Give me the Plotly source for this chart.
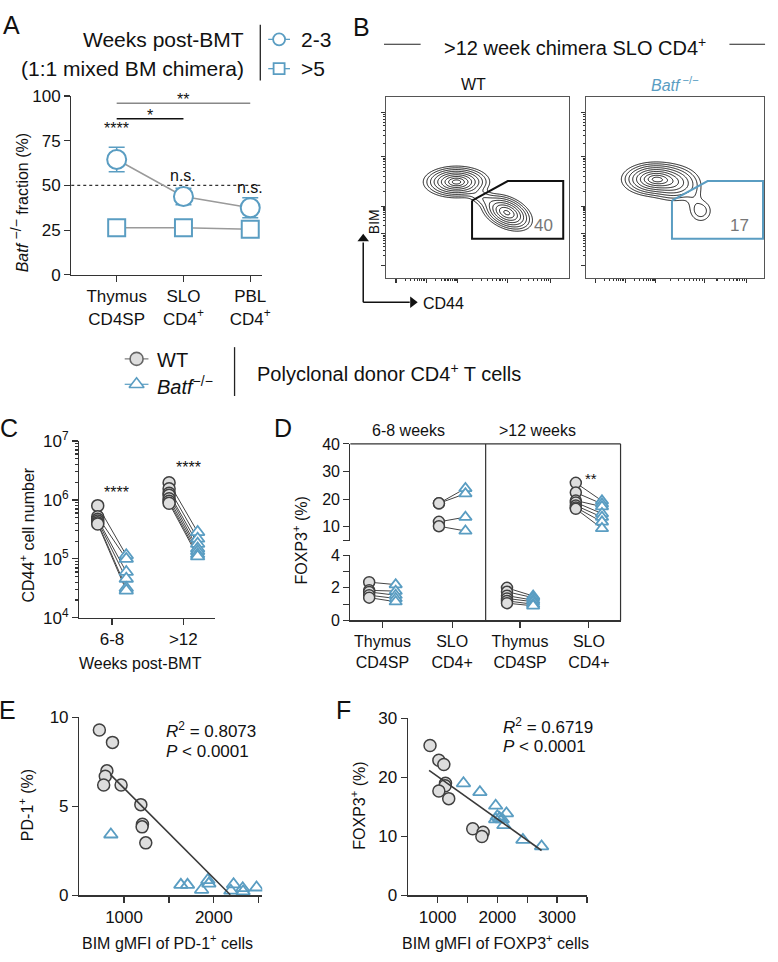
import numpy as np
import plotly.graph_objects as go

W, H = 778, 962
FONT = "Liberation Sans, Arial, sans-serif"
BLUE = "#5a9dc2"
DARK = "#333333"
WT_FILL = "#dedede"
WT_LINE = "#404040"

# ======================= DATA =======================
a_categories = ["Thymus<br>CD4SP", "SLO<br>CD4<sup>+</sup>", "PBL<br>CD4<sup>+</sup>"]
a_wk23_mean = [64.5, 43.8, 37.5]
a_wk23_sem = [6.8, 4.6, 5.6]
a_wk5_mean = [26.4, 26.4, 25.5]
a_sig_above = ["****", "n.s.", "n.s."]
a_sig_above_y = [76, 49.5, 43.2]
a_bar_pairs = [(0, 2, 96.0, "**", "#888888"), (0, 1, 87.3, "*", "#111111")]

b_wt_pops = [(0.385, 0.53, 0.066, 0.032, 0.0, 1.0),
             (0.66, 0.36, 0.052, 0.038, -0.4, 0.85),
             (0.53, 0.44, 0.05, 0.03, -0.6, 0.08)]
b_ko_pops = [(0.39, 0.545, 0.07, 0.035, 0.0, 1.0),
             (0.50, 0.52, 0.06, 0.04, 0.0, 0.35),
             (0.645, 0.37, 0.034, 0.034, 0.0, 0.08),
             (0.605, 0.45, 0.03, 0.045, 0.0, 0.035)]
b_wt_gate_x = [0.47, 0.665, 0.968, 0.968, 0.47, 0.47]
b_wt_gate_y = [0.427, 0.535, 0.535, 0.216, 0.216, 0.427]
b_ko_gate_x = [0.483, 0.683, 0.994, 0.994, 0.483, 0.483]
b_ko_gate_y = [0.427, 0.535, 0.535, 0.216, 0.216, 0.427]
b_wt_pct = "40"
b_ko_pct = "17"

c_groups = ["6-8", ">12"]
c_wt = [[8.0e5, 5.2e5, 4.7e5, 4.4e5, 4.1e5, 3.9e5],
        [1.95e6, 1.55e6, 1.3e6, 1.2e6, 1.05e6, 0.95e6, 0.88e6]]
c_ko = [[1.15e5, 1.0e5, 6.0e4, 4.6e4, 3.2e4, 2.9e4],
        [2.85e5, 2.2e5, 1.8e5, 1.5e5, 1.35e5, 1.2e5, 1.1e5]]
c_sig = ["****", "****"]
c_sig_y = [8.9e5, 2.4e6]

d_cats = ["Thymus<br>CD4SP", "SLO<br>CD4+"]
d_panels = ["6-8 weeks", ">12 weeks"]
d_thy_wt = [[2.35, 1.85, 1.75, 1.55, 1.4], [2.0, 1.76, 1.52, 1.35, 1.2, 1.06]]
d_thy_ko = [[2.2, 1.8, 1.55, 1.35, 1.15], [1.5, 1.4, 1.25, 1.15, 1.0, 0.9]]
d_slo_wt = [[18.5, 18.5, 11.8, 10.2], [25.9, 22.4, 19.5, 18.8, 17.7, 17.0, 16.5]]
d_slo_ko = [[23.9, 22.0, 13.5, 8.5], [19.4, 18.3, 17.3, 14.8, 13.5, 11.8, 9.4]]
d_sig_y = 23.7

e_wt_x = [725, 871, 809, 791, 773, 967, 1187, 1205, 1201, 1242]
e_wt_y = [9.3, 8.6, 7.0, 6.7, 6.2, 6.2, 5.1, 4.0, 3.85, 2.95]
e_ko_x = [853, 1633, 1707, 1864, 1934, 1945, 2220, 2190, 2322, 2326, 2476]
e_ko_y = [3.42, 0.59, 0.59, 0.31, 0.86, 0.66, 0.62, 0.26, 0.40, 0.22, 0.44]
e_fit_slope, e_fit_intercept, e_fit_x = -0.00506, 11.08, [846, 2183]
e_stats = ["<i>R</i><sup>2</sup> = 0.8073", "<i>P</i> < 0.0001"]

f_wt_x = [873, 1021, 1104, 1132, 1126, 1021, 1186, 1588, 1763, 1741]
f_wt_y = [25.4, 22.9, 22.2, 19.0, 18.6, 17.7, 16.4, 11.3, 10.7, 9.97]
f_ko_x = [1433, 1708, 1972, 2153, 2000, 2038, 1972, 2082, 2109, 2428, 2741]
f_ko_y = [19.0, 17.5, 15.2, 13.9, 13.4, 13.1, 12.9, 12.9, 11.9, 9.4, 8.3]
f_fit_slope, f_fit_intercept, f_fit_x = -0.00722, 27.39, [857, 2741]
f_stats = ["<i>R</i><sup>2</sup> = 0.6719", "<i>P</i> < 0.0001"]

# ======================= HELPERS =======================
def X(p): return p / W
def Y(p): return 1 - p / H
def dx(a, b): return [a / W, b / W]
def dy(top, bot): return [1 - bot / H, 1 - top / H]

fig = go.Figure()
ann = []
shapes = []

def txt(x, y, s, size=16, color="#111", xanchor="center", yanchor="middle", angle=0, **kw):
    d = dict(x=X(x), y=Y(y), xref="paper", yref="paper", text=s, showarrow=False,
             font=dict(family=FONT, size=size, color=color), xanchor=xanchor,
             yanchor=yanchor, textangle=angle)
    d.update(kw)
    ann.append(d)

def pline(x0, y0, x1, y1, color="#222", width=1.2, dash=None):
    shapes.append(dict(type="line", xref="paper", yref="paper", x0=X(x0), y0=Y(y0),
                       x1=X(x1), y1=Y(y1), line=dict(color=color, width=width, dash=dash)))

def base_axis(**kw):
    d = dict(showgrid=False, zeroline=False, showline=True, linecolor=DARK, linewidth=1.2,
             ticks="outside", ticklen=6, tickwidth=1.2, tickcolor=DARK,
             tickfont=dict(family=FONT, size=16, color="#111"), fixedrange=True)
    d.update(kw)
    return d

def minor_ticks(vals, length=6):
    return dict(tickvals=vals, ticklen=length, ticks="outside", tickcolor=DARK, tickwidth=1.2)

def pair_lines(xa, xb, ya, yb):
    xs, ys = [], []
    for a, b in zip(ya, yb):
        xs += [xa, xb, None]
        ys += [a, b, None]
    return xs, ys

wt_marker = dict(symbol="circle", size=12, color=WT_FILL, line=dict(color=WT_LINE, width=1.5))
ko_marker = dict(symbol="triangle-up", size=12, color="white", line=dict(color=BLUE, width=1.8))

# ======================= PANEL A =======================
pos = list(range(len(a_categories)))
fig.add_trace(go.Scatter(x=pos, y=a_wk5_mean, mode="lines+markers", xaxis="x", yaxis="y",
                         line=dict(color="#9a9a9a", width=1.5),
                         marker=dict(symbol="square", size=17, color="white", line=dict(color=BLUE, width=2)),
                         hoverinfo="skip"))
fig.add_trace(go.Scatter(x=pos, y=a_wk23_mean, mode="lines+markers", xaxis="x", yaxis="y",
                         line=dict(color="#9a9a9a", width=1.5),
                         error_y=dict(type="data", array=a_wk23_sem, color=BLUE, thickness=1.5, width=8),
                         marker=dict(symbol="circle", size=19, color="white", line=dict(color=BLUE, width=2)),
                         hoverinfo="skip"))
shapes.append(dict(type="line", xref="x domain", yref="y", x0=0, x1=1, y0=50, y1=50,
                   line=dict(color="#333", width=1.3, dash="dot"), layer="below"))
for (i0, i1, yv, s, col) in a_bar_pairs:
    shapes.append(dict(type="line", xref="x", yref="y", x0=pos[i0], x1=pos[i1], y0=yv, y1=yv,
                       line=dict(color=col, width=1.5)))
    ann.append(dict(x=(pos[i0] + pos[i1]) / 2, y=yv, xref="x", yref="y", text=s, showarrow=False,
                    yanchor="bottom", yshift=-7, font=dict(family=FONT, size=16, color="#111")))
for p, s, yv in zip(pos, a_sig_above, a_sig_above_y):
    ann.append(dict(x=p, y=yv, xref="x", yref="y", text=s, showarrow=False, yanchor="bottom",
                    font=dict(family=FONT, size=16, color="#111")))

layout_axes = {}
layout_axes["xaxis"] = base_axis(domain=dx(72, 265), range=[-0.68, 2.18], tickvals=pos,
                                 ticktext=a_categories, anchor="y", tickfont=dict(family=FONT, size=17))
layout_axes["yaxis"] = base_axis(domain=dy(86, 269), range=[0, 100], tickvals=[0, 25, 50, 75, 100],
                                 anchor="x", tickfont=dict(family=FONT, size=17))

txt(249, 28, "Weeks post-BMT", size=21, xanchor="right")
txt(249, 58, "(1:1 mixed BM chimera)", size=21, xanchor="right")
pline(263, 13, 263, 70, color="#222", width=1.3)
txt(302, 28, "2-3", size=21, xanchor="left")
txt(302, 58, ">5", size=21, xanchor="left")
txt(12, 13, "A", size=25)
txt(20, 195, "<i>Batf</i> <sup><span style='font-size:14px'>−/−</span></sup> fraction (%)", size=16, angle=-90)

# ======================= PANEL B =======================
gx = np.linspace(0, 1, 241)
gy = np.linspace(0, 1, 241)
GX, GY = np.meshgrid(gx, gy)

def density(pops):
    Z = np.zeros_like(GX)
    for (cx, cy, sx, sy, rho, w) in pops:
        u = (GX - cx) / sx
        v = (GY - cy) / sy
        q = (u ** 2 - 2 * rho * u * v + v ** 2) / (1 - rho ** 2)
        Z += w * np.exp(-0.5 * q)
    Z = Z / Z.max()
    return np.sqrt(-2 * np.log(np.clip(Z, 1e-9, 1)))

def b_ticks(major):
    minor = []
    for a, b in zip(major[:-1], major[1:]):
        minor += [a + (b - a) * np.log10(k) for k in range(2, 10)]
    return minor

b_x_major = [0.055, 0.22, 0.39, 0.665, 0.9]
b_y_major = [0.07, 0.243, 0.395, 0.67, 0.914]

for i, (pops, gxs, gys, gcol, pct, xa, ya) in enumerate([
        (b_wt_pops, b_wt_gate_x, b_wt_gate_y, "#111111", b_wt_pct, "x2", "y2"),
        (b_ko_pops, b_ko_gate_x, b_ko_gate_y, BLUE, b_ko_pct, "x3", "y3")]):
    fig.add_trace(go.Contour(x=gx, y=gy, z=density(pops), xaxis=xa, yaxis=ya,
                             contours=dict(coloring="lines", start=0.35, end=2.75, size=0.3),
                             colorscale=[[0, "#000000"], [1, "#000000"]], showscale=False,
                             line=dict(width=0.9, smoothing=1), hoverinfo="skip"))
    fig.add_trace(go.Scatter(x=gxs, y=gys, xaxis=xa, yaxis=ya, mode="lines",
                             line=dict(color=gcol, width=2), hoverinfo="skip"))
    ann.append(dict(x=0.86, y=0.29, xref=xa, yref=ya, text=pct, showarrow=False,
                    font=dict(family=FONT, size=17, color="#777")))

for n, d in [("2", dx(390, 575)), ("3", dx(592, 772))]:
    layout_axes["xaxis" + n] = base_axis(domain=d, range=[0, 1], mirror=True, tickvals=b_x_major,
                                         showticklabels=False, ticklen=4, linewidth=1, linecolor="#555",
                                         minor=dict(tickvals=b_ticks(b_x_major), ticklen=2, ticks="outside",
                                                    tickcolor=DARK),
                                         anchor="y" + n)
    layout_axes["yaxis" + n] = base_axis(domain=dy(87, 272), range=[0, 1], mirror=True, tickvals=b_y_major,
                                         showticklabels=False, ticklen=4, linewidth=1, linecolor="#555",
                                         minor=dict(tickvals=b_ticks(b_y_major), ticklen=2, ticks="outside",
                                                    tickcolor=DARK),
                                         anchor="x" + n)

txt(365, 15, "B", size=25)
pline(388, 33, 425, 33, width=1.2)
pline(737, 33, 773, 33, width=1.2)
txt(581, 35, ">12 week chimera SLO CD4<sup>+</sup>", size=20)
txt(478, 74, "WT", size=16)
txt(682, 74, "<i>Batf</i><sup> −/−</sup>", size=16, color=BLUE)
fig.add_trace(go.Scatter(x=[367, 367, None, 367, 414], y=[297, 236, None, 297, 297], xaxis="x9", yaxis="y11",
                         mode="lines", line=dict(color="#111", width=1.5), hoverinfo="skip"))
fig.add_trace(go.Scatter(x=[367], y=[232], xaxis="x9", yaxis="y11", mode="markers",
                         marker=dict(symbol="triangle-up", size=10, color="#111"), hoverinfo="skip"))
fig.add_trace(go.Scatter(x=[417], y=[297], xaxis="x9", yaxis="y11", mode="markers",
                         marker=dict(symbol="triangle-right", size=10, color="#111"), hoverinfo="skip"))
txt(378, 215, "BIM", size=14, angle=-90)
txt(425, 298, "CD44", size=16, xanchor="left")

# ======================= LEGENDS =======================
for yy, col, sym, fill, lc in [(355, "#777", "circle", WT_FILL, "#666"), (381, BLUE, "triangle-up", "white", BLUE)]:
    fig.add_trace(go.Scatter(x=[126, 150], y=[yy, yy], xaxis="x9", yaxis="y11", mode="lines",
                             line=dict(color=col, width=1.2), hoverinfo="skip"))
    fig.add_trace(go.Scatter(x=[138], y=[yy], xaxis="x9", yaxis="y11", mode="markers",
                             marker=dict(symbol=sym, size=13, color=fill, line=dict(color=lc, width=1.6)),
                             hoverinfo="skip"))
for yy, sym, sz in [(28, "circle", 12), (58, "square", 11)]:
    fig.add_trace(go.Scatter(x=[271, 293], y=[yy, yy], xaxis="x9", yaxis="y11", mode="lines",
                             line=dict(color=BLUE, width=1.3), hoverinfo="skip"))
    fig.add_trace(go.Scatter(x=[282], y=[yy], xaxis="x9", yaxis="y11", mode="markers",
                             marker=dict(symbol=sym, size=sz, color="white", line=dict(color=BLUE, width=1.8)),
                             hoverinfo="skip"))
txt(157, 356, "WT", size=20, xanchor="left")
txt(157, 382, "<i>Batf</i><sup>−/−</sup>", size=20, xanchor="left")
pline(237, 343, 237, 393, width=1.3)
txt(258, 369, "Polyclonal donor CD4<sup>+</sup> T cells", size=20, xanchor="left")

layout_axes["xaxis9"] = dict(domain=[0, 1], range=[0, W], visible=False, fixedrange=True, anchor="y11")
layout_axes["yaxis11"] = dict(domain=[0, 1], range=[H, 0], visible=False, fixedrange=True, anchor="x9")

# ======================= PANEL C =======================
OFF = 0.2
for g, (wt, ko) in enumerate(zip(c_wt, c_ko)):
    xs, ys = pair_lines(g - OFF, g + OFF, wt, ko)
    fig.add_trace(go.Scatter(x=xs, y=ys, xaxis="x4", yaxis="y4", mode="lines",
                             line=dict(color="#444", width=1), hoverinfo="skip"))
for g, (wt, ko) in enumerate(zip(c_wt, c_ko)):
    fig.add_trace(go.Scatter(x=[g - OFF] * len(wt), y=wt, xaxis="x4", yaxis="y4", mode="markers",
                             marker=wt_marker, hoverinfo="skip"))
    fig.add_trace(go.Scatter(x=[g + OFF] * len(ko), y=ko, xaxis="x4", yaxis="y4", mode="markers",
                             marker=ko_marker, hoverinfo="skip"))
    ann.append(dict(x=g + 0.07, y=np.log10(c_sig_y[g]), xref="x4", yref="y4", text=c_sig[g],
                    showarrow=False, yanchor="bottom", font=dict(family=FONT, size=16, color="#111")))
c_minor = [k * 10 ** d for d in (4, 5, 6) for k in range(2, 10)]
layout_axes["xaxis4"] = base_axis(domain=dx(80, 217), range=[-0.46, 1.44], tickvals=[0, 1],
                                  ticktext=c_groups, anchor="y4", tickfont=dict(family=FONT, size=17))
layout_axes["yaxis4"] = base_axis(domain=dy(439, 620), type="log", range=[4, 7],
                                  tickvals=[1e4, 1e5, 1e6, 1e7],
                                  ticktext=["10<sup>4</sup>", "10<sup>5</sup>", "10<sup>6</sup>", "10<sup>7</sup>"],
                                  minor=minor_ticks(c_minor, 3),
                                  anchor="x4", tickfont=dict(family=FONT, size=17))
txt(9, 426, "C", size=25)
txt(27, 535, "CD44<sup>+</sup> cell number", size=16, angle=-90)
txt(142, 667, "Weeks post-BMT", size=16)

# ======================= PANEL D =======================
DOFF = 0.19
for k, (xa, yu, yl) in enumerate([("x5", "y5", "y6"), ("x6", "y7", "y8")]):
    for cat, wt, ko, yax in [(0, d_thy_wt[k], d_thy_ko[k], yl), (1, d_slo_wt[k], d_slo_ko[k], yu)]:
        xs, ys = pair_lines(cat - DOFF, cat + DOFF, wt, ko)
        fig.add_trace(go.Scatter(x=xs, y=ys, xaxis=xa, yaxis=yax, mode="lines",
                                 line=dict(color="#444", width=1), hoverinfo="skip"))
        fig.add_trace(go.Scatter(x=[cat - DOFF] * len(wt), y=wt, xaxis=xa, yaxis=yax, mode="markers",
                                 marker=dict(wt_marker, size=11), hoverinfo="skip"))
        fig.add_trace(go.Scatter(x=[cat + DOFF] * len(ko), y=ko, xaxis=xa, yaxis=yax, mode="markers",
                                 marker=dict(ko_marker, size=11), hoverinfo="skip"))
ann.append(dict(x=1.03, y=d_sig_y, xref="x6", yref="y7", text="**", showarrow=False, yanchor="bottom",
                font=dict(family=FONT, size=15, color="#111")))
layout_axes["xaxis5"] = base_axis(domain=dx(354, 490.7), range=[-0.46, 1.48], tickvals=[0, 1],
                                  ticktext=d_cats, anchor="y6")
layout_axes["xaxis6"] = base_axis(domain=dx(490.7, 627), range=[-0.5, 1.46], tickvals=[0, 1],
                                  ticktext=d_cats, anchor="y8")
layout_axes["yaxis5"] = base_axis(domain=dy(442, 541), range=[5, 40], tickvals=[10, 20, 30, 40],
                                  minor=minor_ticks([5]), anchor="x5")
layout_axes["yaxis6"] = base_axis(domain=dy(556, 622.7), range=[0, 4], tickvals=[0, 2, 4],
                                  minor=minor_ticks([1, 3]), anchor="x5")
layout_axes["yaxis7"] = dict(domain=dy(442, 541), range=[5, 40], visible=False, anchor="x6", fixedrange=True)
layout_axes["yaxis8"] = dict(domain=dy(556, 622.7), range=[0, 4], visible=False, anchor="x6", fixedrange=True)
pline(354, 442, 627, 442, color=DARK, width=1.2)
pline(627, 442, 627, 622.7, color=DARK, width=1.2)
pline(490.7, 442, 490.7, 622.7, color=DARK, width=1.2)
txt(413, 428, d_panels[0], size=16)
txt(543, 428, d_panels[1], size=16)
txt(286, 426, "D", size=25)
txt(303, 541, "FOXP3<sup>+</sup> (%)", size=16, angle=-90)

# ======================= PANELS E, F =======================
def scatter_panel(xa, ya, wx, wy, kx, ky, slope, intercept, fx):
    fxs = np.array(fx, dtype=float)
    fig.add_trace(go.Scatter(x=wx, y=wy, xaxis=xa, yaxis=ya, mode="markers",
                             marker=dict(wt_marker, size=12), hoverinfo="skip"))
    fig.add_trace(go.Scatter(x=kx, y=ky, xaxis=xa, yaxis=ya, mode="markers",
                             marker=dict(ko_marker, size=12, color="rgba(255,255,255,0)"), hoverinfo="skip"))
    fig.add_trace(go.Scatter(x=fxs, y=slope * fxs + intercept, xaxis=xa, yaxis=ya, mode="lines",
                             line=dict(color="#3a3a3a", width=1.6), hoverinfo="skip"))

scatter_panel("x7", "y9", e_wt_x, e_wt_y, e_ko_x, e_ko_y, e_fit_slope, e_fit_intercept, e_fit_x)
layout_axes["xaxis7"] = base_axis(domain=dx(80, 265), range=[500, 2540], tickvals=[1000, 2000],
                                  minor=minor_ticks([1500, 2500]), anchor="y9",
                                  tickfont=dict(family=FONT, size=17))
layout_axes["yaxis9"] = base_axis(domain=dy(722, 904), range=[0, 10], tickvals=[0, 5, 10], anchor="x7",
                                  tickfont=dict(family=FONT, size=17))
txt(8, 714, "E", size=25)
txt(27, 812, "PD-1<sup>+</sup> (%)", size=16, angle=-90)
txt(169, 952, "BIM gMFI of PD-1<sup>+</sup> cells", size=16)
txt(166, 735, e_stats[0], size=17, xanchor="left")
txt(166, 757, e_stats[1], size=17, xanchor="left")

scatter_panel("x8", "y10", f_wt_x, f_wt_y, f_ko_x, f_ko_y, f_fit_slope, f_fit_intercept, f_fit_x)
layout_axes["xaxis8"] = base_axis(domain=dx(412, 593), range=[500, 3500],
                                  tickvals=[1000, 2000, 3000], minor=minor_ticks([1500, 2500, 3500]),
                                  anchor="y10", tickfont=dict(family=FONT, size=17))
layout_axes["yaxis10"] = base_axis(domain=dy(723, 904), range=[0, 30], tickvals=[0, 10, 20, 30], anchor="x8",
                                   tickfont=dict(family=FONT, size=17))
txt(347, 714, "F", size=25)
txt(362, 812, "FOXP3<sup>+</sup> (%)", size=16, angle=-90)
txt(501, 952, "BIM gMFI of FOXP3<sup>+</sup> cells", size=16)
txt(506, 731, f_stats[0], size=17, xanchor="left")
txt(506, 752, f_stats[1], size=17, xanchor="left")

fig.update_layout(width=W, height=H, margin=dict(l=0, r=0, t=0, b=0), showlegend=False,
                  paper_bgcolor="white", plot_bgcolor="rgba(0,0,0,0)", hovermode=False,
                  font=dict(family=FONT, color="#111"), annotations=ann, shapes=shapes, **layout_axes)
fig.write_html("out.html", config={"displayModeBar": False, "staticPlot": True},
               post_script="document.body.style.margin='0px';document.body.style.padding='0px';")
